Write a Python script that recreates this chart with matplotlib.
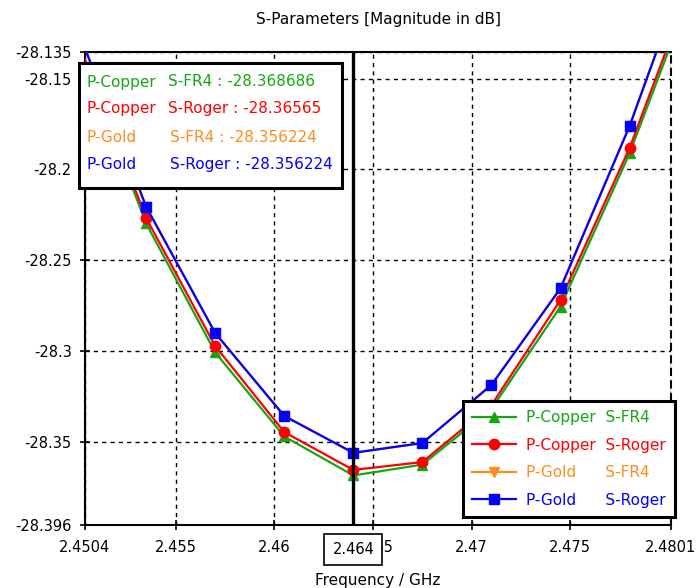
import numpy as np
import matplotlib
matplotlib.use('Agg')
import matplotlib.pyplot as plt
from matplotlib.patches import Rectangle
import matplotlib.transforms as mtransforms

plt.rcParams['font.family'] = ['DejaVu Sans']
plt.rcParams['axes.unicode_minus'] = False

# frequencies of the simulation points (GHz), including the ones just outside the view
freq = [2.450, 2.4535, 2.457, 2.4605, 2.464, 2.4675, 2.471, 2.4745, 2.478, 2.4815]

# S11 magnitude in dB
cu_fr4 = [-28.131, -28.2298, -28.3009, -28.3472, -28.368686, -28.3627, -28.3320, -28.2756, -28.1912, -28.091]
cu_roger = [-28.128, -28.2268, -28.2974, -28.3448, -28.36565, -28.3613, -28.3299, -28.2720, -28.1882, -28.087]
au_fr4 = [-28.122, -28.2206, -28.2902, -28.3359, -28.356224, -28.3508, -28.3188, -28.2655, -28.1761, -28.071]
au_roger = [-28.122, -28.2206, -28.2902, -28.3359, -28.356224, -28.3508, -28.3188, -28.2655, -28.1761, -28.071]

names_p = ['P-Copper', 'P-Copper', 'P-Gold', 'P-Gold']
names_s = ['S-FR4', 'S-Roger', 'S-FR4', 'S-Roger']
cursor_vals = ['-28.368686', '-28.36565', '-28.356224', '-28.356224']
colors = ['#13a813', '#ff0000', '#ff8c1a', '#0000ff']
markers = ['^', 'o', 'v', 's']

cursor_f = 2.464
xticks = [2.4504, 2.455, 2.46, 2.465, 2.47, 2.475, 2.4801]
xticklabels = ['2.4504', '2.455', '2.46', '2.465', '2.47', '2.475', '2.4801']
yticks = [-28.396, -28.35, -28.3, -28.25, -28.2, -28.15, -28.135]
yticklabels = ['-28.396', '-28.35', '-28.3', '-28.25', '-28.2', '-28.15', '-28.135']

W, H = 696, 588
fig = plt.figure(figsize=(W / 100, H / 100), dpi=100)
ax = fig.add_axes([85 / W, 1 - 525 / H, (671 - 85) / W, (525 - 51.5) / H])


def fx(px):
    return px / W


def fy(py):
    return 1 - py / H


series = [cu_fr4, cu_roger, au_fr4, au_roger]
handles = []
for i, ys in enumerate(series):
    ln, = ax.plot(freq, ys, color=colors[i], lw=1.6, marker=markers[i],
                  markersize=7.5, zorder=3 + i)
    handles.append(ln)

ax.axvline(cursor_f, color='black', lw=2.4, zorder=10)

ax.set_xlim(2.4504, 2.4801)
ax.set_ylim(-28.396, -28.135)
ax.set_xticks(xticks)
ax.set_xticklabels(xticklabels)
ax.set_yticks(yticks)
ax.set_yticklabels(yticklabels)
ax.tick_params(direction='inout', length=7, width=1.2, labelsize=10.5, colors='black')
ax.tick_params(axis='x', pad=7)
ax.tick_params(axis='y', pad=6)
ax.grid(True, color='black', linestyle=(0, (3, 3)), lw=1)
for s in ['left', 'bottom', 'top']:
    ax.spines[s].set_linewidth(1.5)
ax.spines['right'].set_linestyle((0, (3, 3)))
ax.spines['right'].set_linewidth(1.5)

ax.set_title('S-Parameters [Magnitude in dB]', fontsize=11, pad=20)
ax.set_xlabel('Frequency / GHz', fontsize=11, labelpad=13)

# cursor position label on the x axis (covers most of the 2.465 tick label)
trans = mtransforms.blended_transform_factory(ax.transData, ax.transAxes)
ax.text(cursor_f, -0.051, '2.464', transform=trans, ha='center', va='center',
        fontsize=10.5, zorder=20,
        bbox=dict(boxstyle='square,pad=0.55', fc='white', ec='black', lw=1.2))

# cursor value box
fig.patches.append(Rectangle((fx(79), fy(188)), fx(342) - fx(79), fy(63) - fy(188),
                             transform=fig.transFigure, fc='white', ec='black',
                             lw=2.2, zorder=20))
rows_y = [82, 109, 137, 165]
for i in range(4):
    fig.text(fx(86), fy(rows_y[i]), names_p[i], color=colors[i], fontsize=11,
             va='center', zorder=21)
    fig.text(fx(168 if i < 2 else 170), fy(rows_y[i]),
             names_s[i] + ' : ' + cursor_vals[i], color=colors[i], fontsize=11,
             va='center', zorder=21)

# legend
labels = ['P-Copper  S-FR4', 'P-Copper  S-Roger', 'P-Gold      S-FR4', 'P-Gold      S-Roger']
leg = ax.legend(handles, labels, loc='upper left',
                bbox_to_anchor=(fx(463), fy(401)), bbox_transform=fig.transFigure,
                borderaxespad=0, fontsize=11, handlelength=2.9, labelspacing=0.82,
                fancybox=False, framealpha=1, edgecolor='black',
                labelcolor='linecolor', borderpad=0.6, handletextpad=0.6)
leg.get_frame().set_linewidth(2.2)
leg.set_zorder(25)

fig.savefig('out.png', dpi=100)
